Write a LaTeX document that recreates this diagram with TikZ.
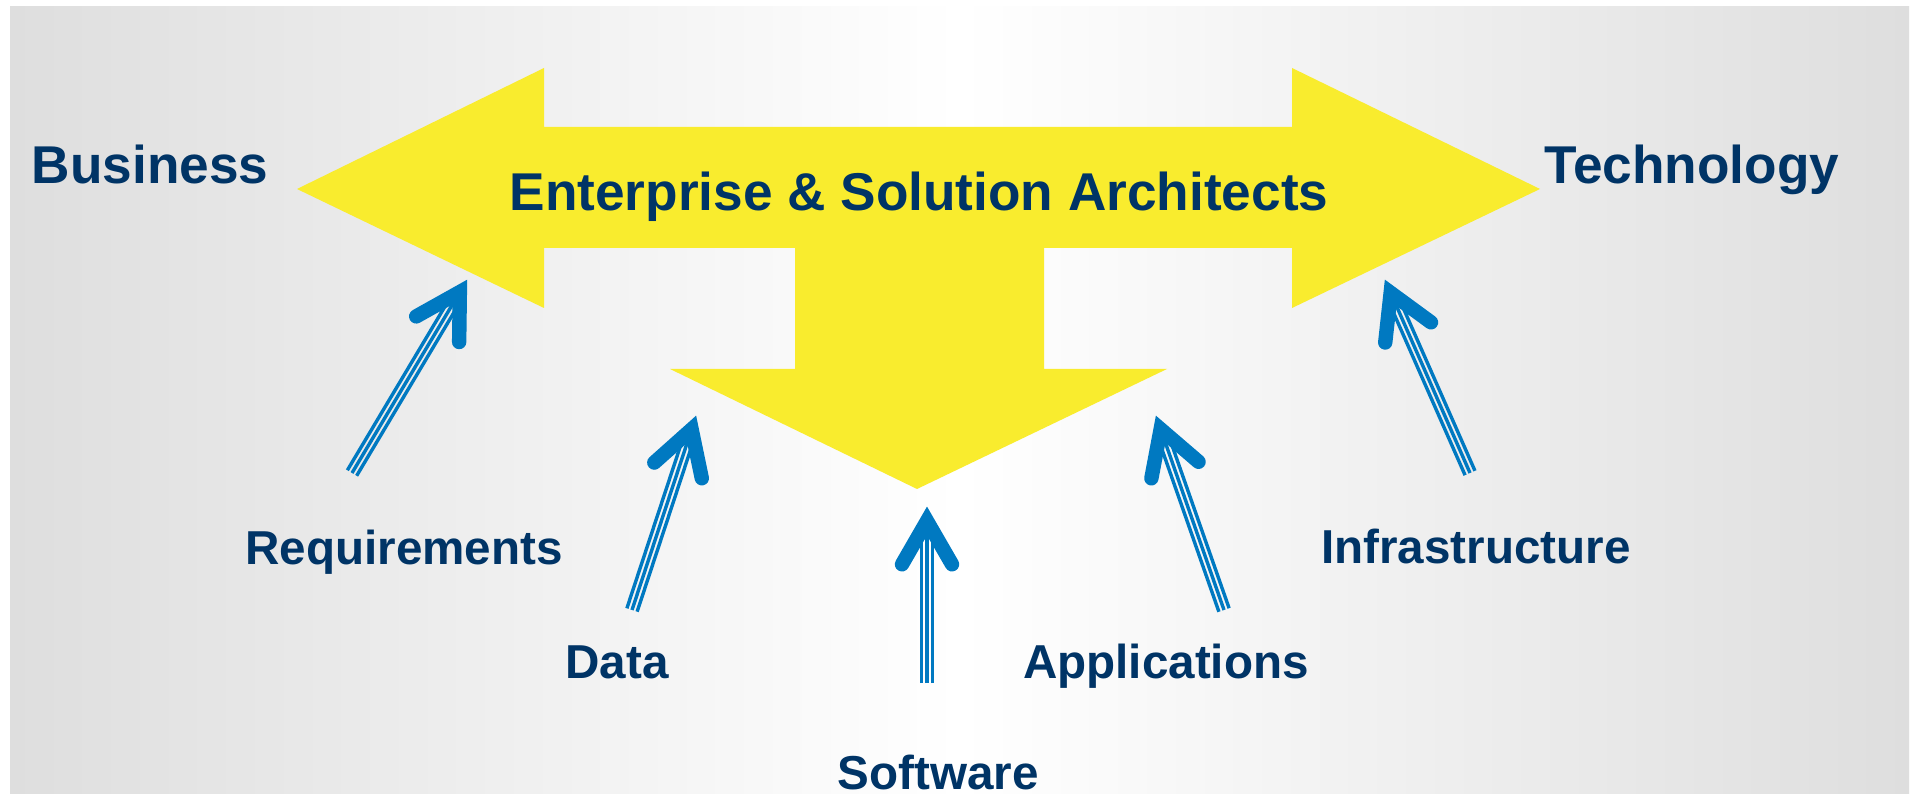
\documentclass[tikz,border=0pt]{standalone}
\usepackage{fontspec}
\setmainfont{Liberation Sans}
\usetikzlibrary{calc}
\definecolor{navy}{RGB}{0,52,102}
\definecolor{ayellow}{RGB}{249,236,46}
\definecolor{ablue}{RGB}{0,121,193}
\definecolor{bggray}{RGB}{222,222,222}
\tikzset{
  bigtxt/.style={font=\fontsize{26.6pt}{30pt}\selectfont\bfseries, text=navy, inner sep=0pt, anchor=base},
  smalltxt/.style={font=\fontsize{23.8pt}{28pt}\selectfont\bfseries, text=navy, inner sep=0pt, anchor=base},
  shaftline/.style={draw=ablue, line width=1.7pt},
  chev/.style={draw=ablue, line width=7.2pt, line join=miter, line cap=round},
  bigarrow/.style={fill=ayellow, draw=none}
}
\newcommand\stripearrow[2]{%
  \coordinate (sav) at ($(#2)!7pt!(#1)$);
  \draw[chev] ($(sav)!25pt!30:(#1)$) -- (sav) -- ($(sav)!25pt!-30:(#1)$);
  \draw[shaftline] (#1) -- (sav);
  \draw[shaftline] ($(#1)!2.7pt!90:(sav)$) -- ($(sav)!2.7pt!-90:(#1)$);
  \draw[shaftline] ($(#1)!2.7pt!-90:(sav)$) -- ($(sav)!2.7pt!90:(#1)$);
}
\begin{document}
\begin{tikzpicture}[x=0.5pt, y=-0.5pt]
\useasboundingbox (0,0) rectangle (1914,795);
\fill[white] (0,0) rectangle (1914,795);
\shade[left color=bggray, right color=bggray, middle color=white] (10,7) rectangle (1909,793);

% yellow three-way arrow
\path[bigarrow] (297,189) -- (544,68) -- (544,127) -- (1292,127) -- (1292,68)
  -- (1540,189) -- (1292,308) -- (1292,248) -- (1044,248) -- (1044,369)
  -- (1167,369) -- (917,489) -- (670,369) -- (795,369) -- (795,248)
  -- (544,248) -- (544,308) -- cycle;

% labels
\node[bigtxt] (business) at (150,184) {Business};
\node[bigtxt] (esa) at (919,211) {Enterprise \& Solution Architects};
\node[bigtxt] (tech) at (1692,184) {Technology};
\node[smalltxt] (req) at (404,565) {Requirements};
\node[smalltxt] (data) at (617,678) {Data};
\node[smalltxt, text depth=0pt] (soft) at (938,789) {Software};
\node[smalltxt] (apps) at (1166,678) {Applications};
\node[smalltxt] (infra) at (1476,564) {Infrastructure};

% arrow end points
\coordinate (reqtail) at (352,473);  \coordinate (reqtip) at (467,280);
\coordinate (datatail) at (632,610); \coordinate (datatip) at (696,416);
\coordinate (softtail) at (927,683); \coordinate (softtip) at (927,507);
\coordinate (appstail) at (1224,610); \coordinate (appstip) at (1156,416);
\coordinate (infratail) at (1470,473); \coordinate (infratip) at (1385,280);

\stripearrow{reqtail}{reqtip}
\stripearrow{datatail}{datatip}
\stripearrow{softtail}{softtip}
\stripearrow{appstail}{appstip}
\stripearrow{infratail}{infratip}
\end{tikzpicture}
\end{document}
